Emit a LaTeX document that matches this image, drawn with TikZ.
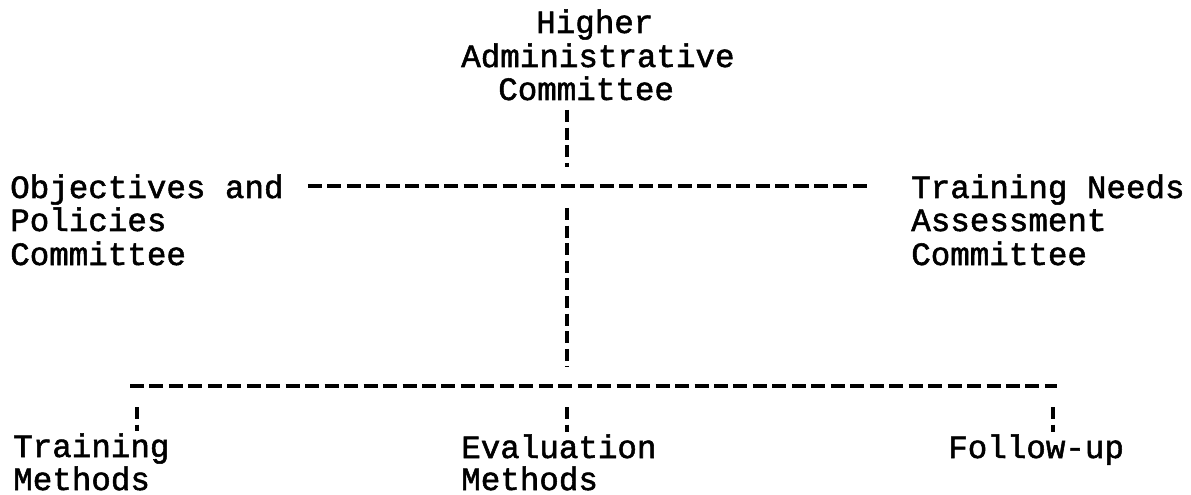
\documentclass[tikz,border=0pt]{standalone}
\usepackage{fontspec}
\newfontfamily\typewriter[FakeBold=1.6]{Liberation Mono}
\usetikzlibrary{calc}
\tikzset{
  label text/.style={inner sep=0pt, anchor=base west,
    font=\typewriter\fontsize{24.4pt}{33pt}\selectfont},
  hline/.style={line width=2.4pt, dash pattern=on 10.5pt off 4.1pt},
  vline/.style={line width=3pt, dash pattern=on 9pt off 4.2pt},
}
\begin{document}
\begin{tikzpicture}[x=0.75pt,y=-0.75pt]
  \useasboundingbox (0,0) rectangle (1191,495);

  % top committee
  \node[label text] (hac1) at (536,33)  {Higher};
  \node[label text] (hac2) at (461,67)  {Administrative};
  \node[label text] (hac3) at (498,100) {Committee};

  % left and right committees
  \node[label text] (obj1) at (10,198)  {Objectives and};
  \node[label text] (obj2) at (10,231)  {Policies};
  \node[label text] (obj3) at (10,265)  {Committee};
  \node[label text] (tna1) at (911,198) {Training Needs};
  \node[label text] (tna2) at (911,231) {Assessment};
  \node[label text] (tna3) at (911,265) {Committee};

  % bottom row
  \node[label text] (tm1) at (13,457)  {Training};
  \node[label text] (tm2) at (13,490)  {Methods};
  \node[label text] (em1) at (461,458) {Evaluation};
  \node[label text] (em2) at (461,490) {Methods};
  \node[label text] (fu)  at (948,458) {Follow-up};

  % junctions
  \coordinate (jA) at (567,186);
  \coordinate (jB) at (567,386);
  \coordinate (sL) at (137,386);
  \coordinate (sR) at (1053,386);

  % connectors
  \draw[vline] ($(hac3.base -| jA)+(0,10)$) -- ($(jA)+(0,-19)$);
  \draw[hline] ($(obj1.base east)+(24,-12)$) -- ($(tna1.base west)+(-43,-12)$);
  \draw[vline] ($(jA)+(0,22)$) -- ($(jB)+(0,-19)$);
  \draw[hline] ($(sL)+(-7,0)$) -- ($(sR)+(4,0)$);
  \draw[vline] ($(sL)+(0,21)$) -- ($(sL |- tm1.base)+(0,-26)$);
  \draw[vline] ($(jB)+(0,21)$) -- ($(jB |- em1.base)+(0,-26)$);
  \draw[vline] ($(sR)+(0,21)$) -- ($(sR |- fu.base)+(0,-26)$);
\end{tikzpicture}
\end{document}
